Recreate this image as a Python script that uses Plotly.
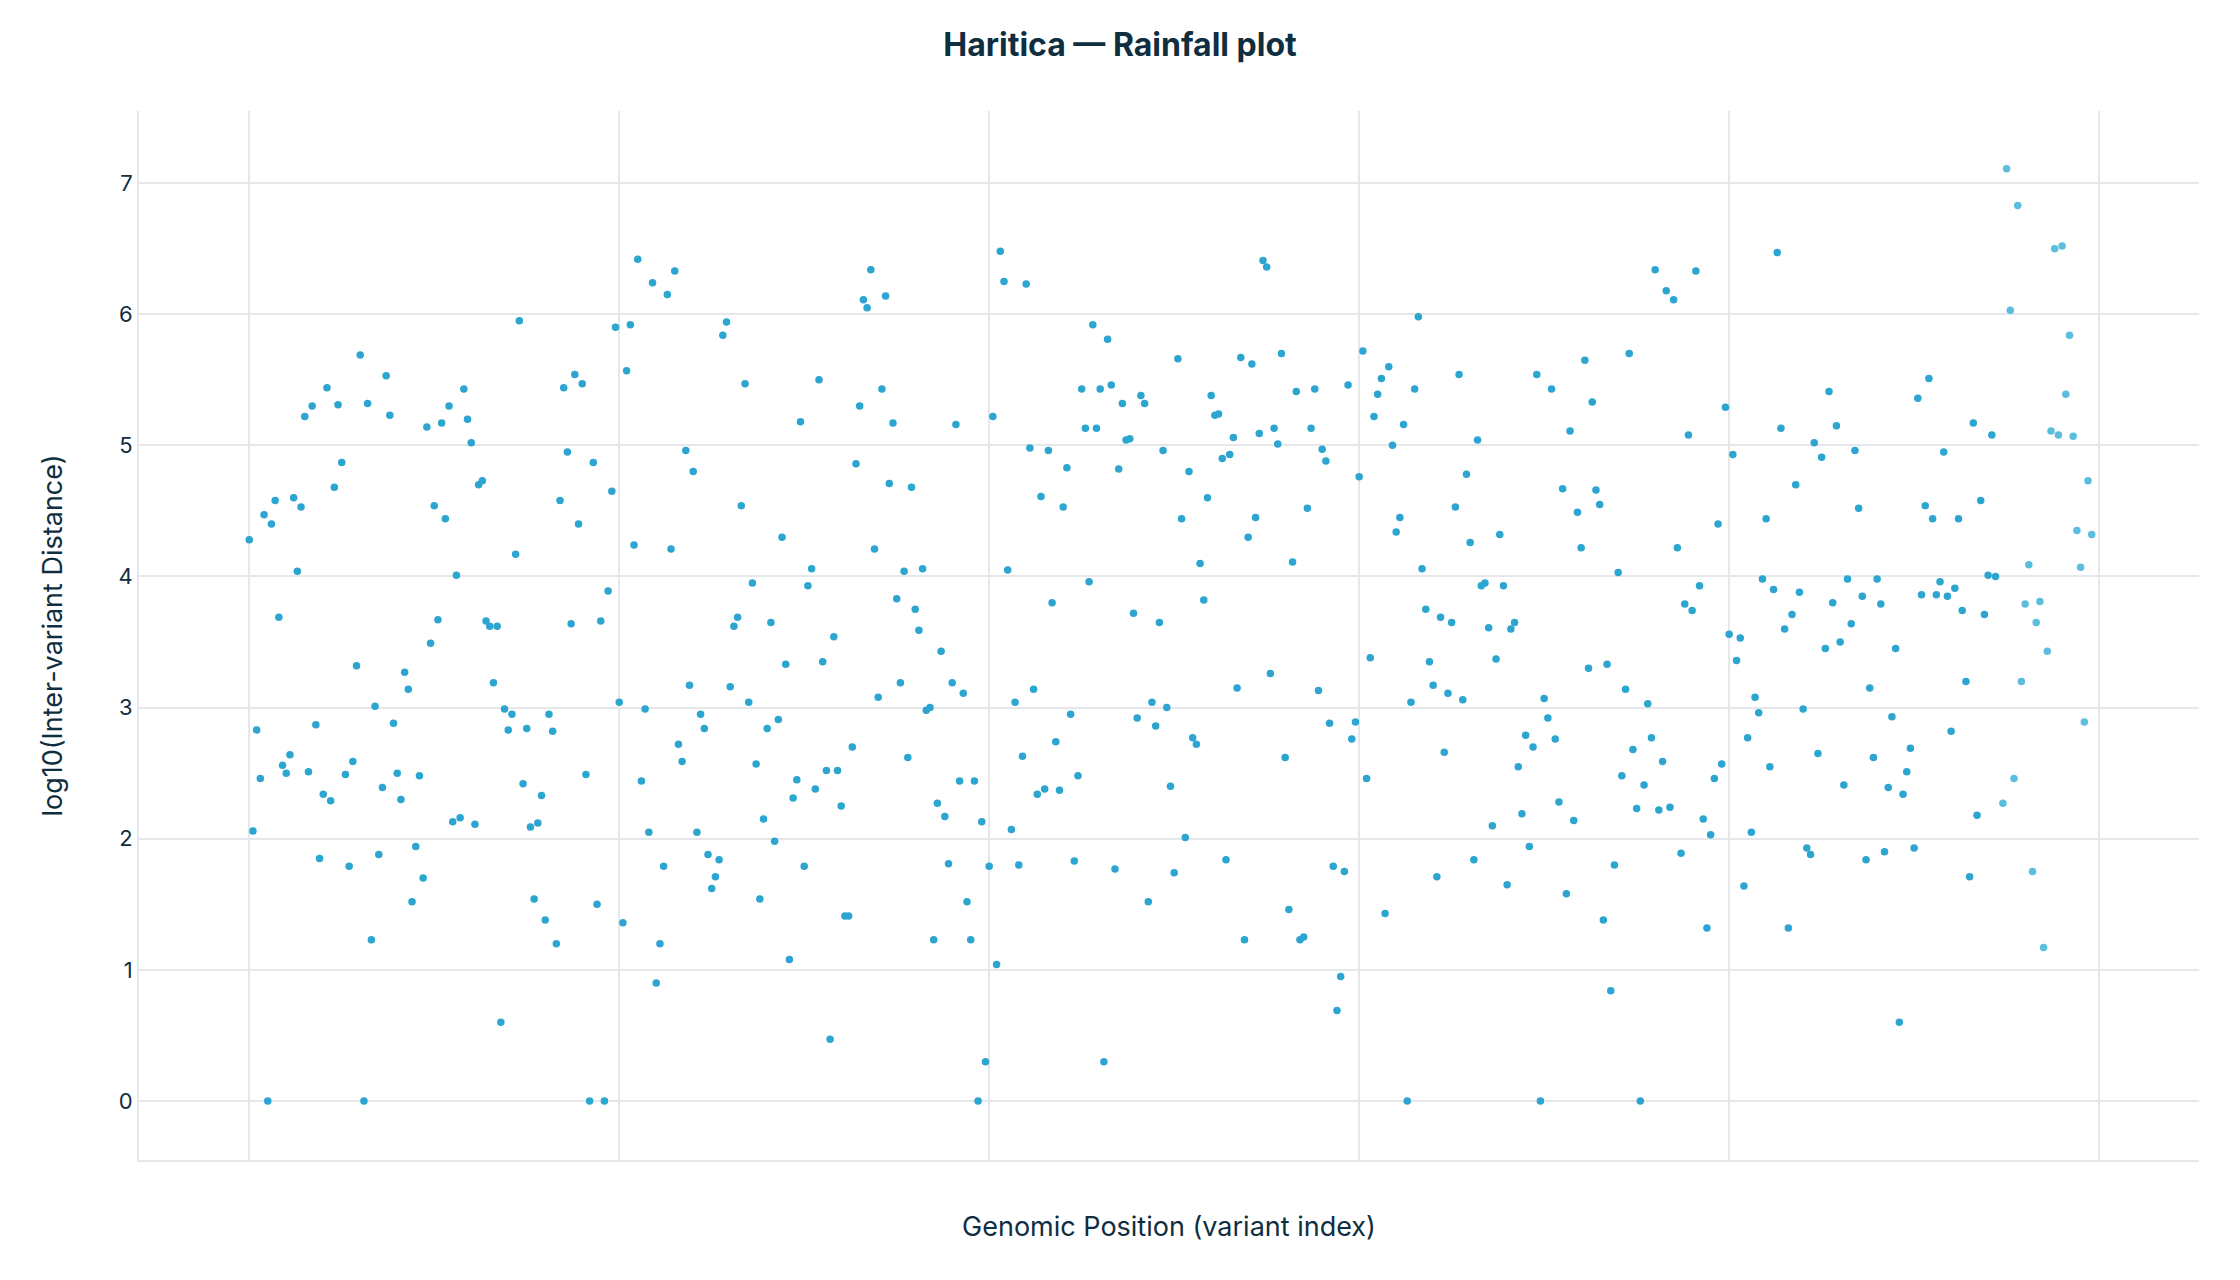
import plotly.graph_objects as go

# log10 inter-variant distance, variant index 0..472 (main series)
main_index = list(range(0, 473))
main_log10_dist = [
    4.28, 2.06, 2.83, 2.46, 4.47, 0.00, 4.40, 4.58, 3.69, 2.56,
    2.50, 2.64, 4.60, 4.04, 4.53, 5.22, 2.51, 5.30, 2.87, 1.85,
    2.34, 5.44, 2.29, 4.68, 5.31, 4.87, 2.49, 1.79, 2.59, 3.32,
    5.69, 0.00, 5.32, 1.23, 3.01, 1.88, 2.39, 5.53, 5.23, 2.88,
    2.50, 2.30, 3.27, 3.14, 1.52, 1.94, 2.48, 1.70, 5.14, 3.49,
    4.54, 3.67, 5.17, 4.44, 5.30, 2.13, 4.01, 2.16, 5.43, 5.20,
    5.02, 2.11, 4.70, 4.73, 3.66, 3.62, 3.19, 3.62, 0.60, 2.99,
    2.83, 2.95, 4.17, 5.95, 2.42, 2.84, 2.09, 1.54, 2.12, 2.33,
    1.38, 2.95, 2.82, 1.20, 4.58, 5.44, 4.95, 3.64, 5.54, 4.40,
    5.47, 2.49, 0.00, 4.87, 1.50, 3.66, 0.00, 3.89, 4.65, 5.90,
    3.04, 1.36, 5.57, 5.92, 4.24, 6.42, 2.44, 2.99, 2.05, 6.24,
    0.90, 1.20, 1.79, 6.15, 4.21, 6.33, 2.72, 2.59, 4.96, 3.17,
    4.80, 2.05, 2.95, 2.84, 1.88, 1.62, 1.71, 1.84, 5.84, 5.94,
    3.16, 3.62, 3.69, 4.54, 5.47, 3.04, 3.95, 2.57, 1.54, 2.15,
    2.84, 3.65, 1.98, 2.91, 4.30, 3.33, 1.08, 2.31, 2.45, 5.18,
    1.79, 3.93, 4.06, 2.38, 5.50, 3.35, 2.52, 0.47, 3.54, 2.52,
    2.25, 1.41, 1.41, 2.70, 4.86, 5.30, 6.11, 6.05, 6.34, 4.21,
    3.08, 5.43, 6.14, 4.71, 5.17, 3.83, 3.19, 4.04, 2.62, 4.68,
    3.75, 3.59, 4.06, 2.98, 3.00, 1.23, 2.27, 3.43, 2.17, 1.81,
    3.19, 5.16, 2.44, 3.11, 1.52, 1.23, 2.44, 0.00, 2.13, 0.30,
    1.79, 5.22, 1.04, 6.48, 6.25, 4.05, 2.07, 3.04, 1.80, 2.63,
    6.23, 4.98, 3.14, 2.34, 4.61, 2.38, 4.96, 3.80, 2.74, 2.37,
    4.53, 4.83, 2.95, 1.83, 2.48, 5.43, 5.13, 3.96, 5.92, 5.13,
    5.43, 0.30, 5.81, 5.46, 1.77, 4.82, 5.32, 5.04, 5.05, 3.72,
    2.92, 5.38, 5.32, 1.52, 3.04, 2.86, 3.65, 4.96, 3.00, 2.40,
    1.74, 5.66, 4.44, 2.01, 4.80, 2.77, 2.72, 4.10, 3.82, 4.60,
    5.38, 5.23, 5.24, 4.90, 1.84, 4.93, 5.06, 3.15, 5.67, 1.23,
    4.30, 5.62, 4.45, 5.09, 6.41, 6.36, 3.26, 5.13, 5.01, 5.70,
    2.62, 1.46, 4.11, 5.41, 1.23, 1.25, 4.52, 5.13, 5.43, 3.13,
    4.97, 4.88, 2.88, 1.79, 0.69, 0.95, 1.75, 5.46, 2.76, 2.89,
    4.76, 5.72, 2.46, 3.38, 5.22, 5.39, 5.51, 1.43, 5.60, 5.00,
    4.34, 4.45, 5.16, 0.00, 3.04, 5.43, 5.98, 4.06, 3.75, 3.35,
    3.17, 1.71, 3.69, 2.66, 3.11, 3.65, 4.53, 5.54, 3.06, 4.78,
    4.26, 1.84, 5.04, 3.93, 3.95, 3.61, 2.10, 3.37, 4.32, 3.93,
    1.65, 3.60, 3.65, 2.55, 2.19, 2.79, 1.94, 2.70, 5.54, 0.00,
    3.07, 2.92, 5.43, 2.76, 2.28, 4.67, 1.58, 5.11, 2.14, 4.49,
    4.22, 5.65, 3.30, 5.33, 4.66, 4.55, 1.38, 3.33, 0.84, 1.80,
    4.03, 2.48, 3.14, 5.70, 2.68, 2.23, 0.00, 2.41, 3.03, 2.77,
    6.34, 2.22, 2.59, 6.18, 2.24, 6.11, 4.22, 1.89, 3.79, 5.08,
    3.74, 6.33, 3.93, 2.15, 1.32, 2.03, 2.46, 4.40, 2.57, 5.29,
    3.56, 4.93, 3.36, 3.53, 1.64, 2.77, 2.05, 3.08, 2.96, 3.98,
    4.44, 2.55, 3.90, 6.47, 5.13, 3.60, 1.32, 3.71, 4.70, 3.88,
    2.99, 1.93, 1.88, 5.02, 2.65, 4.91, 3.45, 5.41, 3.80, 5.15,
    3.50, 2.41, 3.98, 3.64, 4.96, 4.52, 3.85, 1.84, 3.15, 2.62,
    3.98, 3.79, 1.90, 2.39, 2.93, 3.45, 0.60, 2.34, 2.51, 2.69,
    1.93, 5.36, 3.86, 4.54, 5.51, 4.44, 3.86, 3.96, 4.95, 3.85,
    2.82, 3.91, 4.44, 3.74, 3.20, 1.71, 5.17, 2.18, 4.58, 3.71,
    4.01, 5.08, 4.00,
]

# last segment (lighter markers), variant index 474..498
last_index = list(range(474, 499))
last_log10_dist = [
    2.27, 7.11, 6.03, 2.46, 6.83, 3.20, 3.79, 4.09, 1.75, 3.65,
    3.81, 1.17, 3.43, 5.11, 6.50, 5.08, 6.52, 5.39, 5.84, 5.07,
    4.35, 4.07, 2.89, 4.73, 4.32,
]

fig = go.Figure()
fig.add_trace(go.Scatter(
    x=main_index, y=main_log10_dist, mode="markers",
    marker=dict(size=7.5, color="rgb(44,165,208)"),
    showlegend=False, hoverinfo="x+y",
))
fig.add_trace(go.Scatter(
    x=last_index, y=last_log10_dist, mode="markers",
    marker=dict(size=7.5, color="rgb(92,190,222)"),
    showlegend=False, hoverinfo="x+y",
))

grid = "#e6e7eb"
ink = "#0f2e3f"
fig.update_layout(
    width=2240, height=1280,
    paper_bgcolor="white", plot_bgcolor="white",
    font=dict(family="Inter", color=ink),
    margin=dict(l=139, r=41, t=111, b=120, autoexpand=False),
    title=dict(text="<b>Haritica — Rainfall plot</b>", x=0.5, xanchor="center",
               y=1 - 45 / 1280, yanchor="middle",
               font=dict(family="Inter", size=32, color=ink)),
    showlegend=False,
)
fig.update_xaxes(
    range=[-29.8, 527], tick0=0, dtick=100, showticklabels=False,
    showgrid=True, gridcolor=grid, gridwidth=2, zeroline=False,
    showline=True, linecolor=grid, linewidth=2, ticks="",
    title=dict(text="Genomic Position (variant index)", font=dict(size=27, color=ink), standoff=56),
)
fig.update_yaxes(
    range=[-0.45, 7.55], tick0=0, dtick=1,
    showgrid=True, gridcolor=grid, gridwidth=2, zeroline=False,
    showline=True, linecolor=grid, linewidth=2, ticks="",
    tickfont=dict(size=22, color=ink),
    title=dict(text="log10(Inter-variant Distance)", font=dict(size=27, color=ink), standoff=48),
)

fig.write_html("out.html")
